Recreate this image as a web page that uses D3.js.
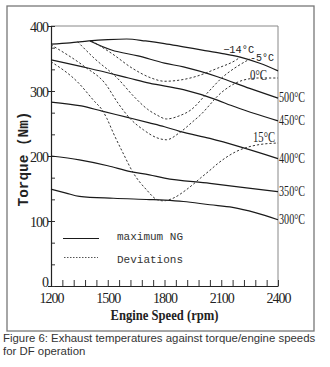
<!DOCTYPE html>
<html>
<head>
<meta charset="utf-8">
<script src="https://d3js.org/d3.v7.min.js"></script>
<style>
  body { margin: 0; background: #fff; }
</style>
</head>
<body>
<svg id="drawing_region"></svg>
<script>
// axis ticks
const rpmTicks = [1200, 1500, 1800, 2100, 2400];
const torqueTicks = [0, 100, 200, 300, 400];

// solid lines: maximum NG (top) and exhaust temperature lines [rpm, torque]
const topCurve = [[1200,372],[1300,374],[1400,377],[1500,379],[1600,380],[1700,377],[1800,373],[1900,368],[2000,363],[2100,358],[2200,352],[2300,343],[2400,331]];
const t500 = [[1406,377],[1520,363],[1660,354],[1800,343],[1900,337],[2080,322],[2250,304],[2400,289]];
const t450 = [[1200,348],[1400,335],[1610,320],[1720,312],[1900,302],[2080,286],[2150,278],[2400,254]];
const t400 = [[1200,283],[1360,277],[1470,269],[1610,259],[1720,251],[1800,245],[1880,238],[2040,227],[2200,214],[2400,196]];
const t350 = [[1200,200],[1350,194],[1500,185],[1620,176],[1720,171],[1800,166],[2040,158],[2200,152],[2400,145]];
const t300 = [[1200,149],[1280,143],[1350,138],[1530,135],[1720,133],[1800,132],[1900,130],[2040,125],[2160,121],[2280,113],[2400,102]];
const solidLines = [topCurve, t500, t450, t400, t350, t300];
const solidNames = ["", "500°C", "450°C", "400°C", "350°C", "300°C"];

// dashed lines: deviations at ambient temperatures
const dm14 = [[1415,377],[1520,358],[1630,335],[1730,320],[1800,315],[1860,316],[1950,321],[2080,335],[2180,348],[2200,352]];
const dm5 = [[1340,376],[1430,350],[1550,320],[1640,291],[1710,272],[1760,263],[1810,257],[1880,262],[1940,271],[2020,295],[2110,322],[2180,337],[2250,349]];
const d0 = [[1200,371],[1380,337],[1485,312],[1555,281],[1620,257],[1690,240],[1760,228],[1810,225],[1880,236],[1950,253],[2000,266],[2040,279],[2080,292],[2150,308],[2220,317],[2300,320],[2400,320]];
const d15 = [[1200,345],[1340,314],[1430,284],[1470,271],[1495,258],[1530,235],[1580,205],[1635,174],[1705,148],[1760,133],[1795,131],[1845,135],[1915,148],[1990,166],[2040,178],[2080,188],[2180,207],[2290,217],[2400,220]];
const dashedLines = [dm14, dm5, d0, d15];
const dashedNames = ["−14°C", "-5°C", "0°C", "15°C"];

const legendLabels = ["maximum NG", "Deviations"];
const caption = ["Figure 6: Exhaust temperatures against torque/engine speeds", "for DF operation"];

class TorqueChart {

  constructor( config ) {
    this.config = {
      parent: config.parent,
      width: config.width || 330,
      height: config.height || 367,
      margin: config.margin || {left: 51, top: 26, right: 52, bottom: 81}
    }
    this.init();
  }

  init() {
    let self = this;
    let m = self.config.margin;

    self.svg = d3.select( self.config.parent )
      .attr('width', self.config.width)
      .attr('height', self.config.height);

    self.inner_width = self.config.width - m.left - m.right;
    self.inner_height = self.config.height - m.top - m.bottom;

    self.xscale = d3.scaleLinear()
      .domain([1200, 2400])
      .range([m.left, m.left + self.inner_width]);

    self.yscale = d3.scaleLinear()
      .domain([0, 400])
      .range([m.top + self.inner_height, m.top]);

    self.line = d3.line()
      .x( d => self.xscale(d[0]) )
      .y( d => self.yscale(d[1]) )
      .curve( d3.curveMonotoneX );
  }

  render() {
    let self = this;
    let x = self.xscale, y = self.yscale;
    let x0 = x(1200), x1 = x(2400), y0 = y(0), y1 = y(400);

    // outer frame
    self.svg.append('rect')
      .attr('x', 7).attr('y', 6)
      .attr('width', 307).attr('height', 325)
      .attr('fill', 'none')
      .attr('stroke', '#777')
      .attr('stroke-width', 1.3);

    // top and right border of the plot
    self.svg.append('path')
      .attr('d', `M${x0},${y1}H${x1}V${y0}`)
      .attr('fill', 'none')
      .attr('stroke', '#888')
      .attr('stroke-width', 1);

    // x minor ticks (inward)
    self.svg.append('g')
      .attr('transform', `translate(0,${y0})`)
      .call( d3.axisBottom(x).tickValues(d3.range(1200, 2401, 60)).tickSize(-6).tickFormat('') )
      .call( g => g.select('.domain').remove() )
      .selectAll('line').attr('stroke', '#333');

    // x axis with labels
    let xaxis = self.svg.append('g')
      .attr('transform', `translate(0,${y0})`)
      .call( d3.axisBottom(x).tickValues(rpmTicks).tickSize(0).tickPadding(7).tickFormat(d3.format('d')) );
    xaxis.select('.domain').attr('stroke', '#222').attr('stroke-width', 1.2);
    xaxis.selectAll('text')
      .attr('font-family', '"Liberation Serif", serif')
      .attr('font-size', 14)
      .attr('letter-spacing', -1)
      .attr('fill', '#222');

    // y minor ticks (inward)
    self.svg.append('g')
      .attr('transform', `translate(${x0},0)`)
      .call( d3.axisLeft(y).tickValues(d3.range(0, 13).map(i => i * 100 / 3)).tickSize(-4).tickFormat('') )
      .call( g => g.select('.domain').remove() )
      .selectAll('line').attr('stroke', '#333');

    // y axis with labels
    let yaxis = self.svg.append('g')
      .attr('transform', `translate(${x0},0)`)
      .call( d3.axisLeft(y).tickValues(torqueTicks).tickSize(3).tickPadding(0) );
    yaxis.select('.domain').attr('stroke', '#222').attr('stroke-width', 1.2);
    yaxis.selectAll('line').attr('stroke', '#222');
    yaxis.selectAll('text')
      .attr('font-family', '"Liberation Serif", serif')
      .attr('font-size', 14)
      .attr('letter-spacing', -1)
      .attr('dy', d => d == 0 ? '0.05em' : '0.38em')
      .attr('fill', '#222');

    // axis titles
    self.svg.append('text')
      .attr('x', (x0 + x1) / 2)
      .attr('y', 320)
      .attr('text-anchor', 'middle')
      .attr('font-family', '"Liberation Serif", serif')
      .attr('font-weight', 'bold')
      .attr('font-size', 14)
      .attr('textLength', 108)
      .attr('lengthAdjust', 'spacingAndGlyphs')
      .attr('fill', '#222')
      .text('Engine Speed (rpm)');

    self.svg.append('text')
      .attr('transform', `translate(28,${(y0 + y1) / 2 + 3}) rotate(-90)`)
      .attr('text-anchor', 'middle')
      .attr('font-family', '"Liberation Mono", monospace')
      .attr('font-weight', 'bold')
      .attr('font-size', 14)
      .attr('textLength', 95)
      .attr('lengthAdjust', 'spacingAndGlyphs')
      .attr('fill', '#222')
      .text('Torque (Nm)');

    // solid lines
    self.svg.append('g')
      .selectAll('path')
      .data( solidLines )
      .join('path')
      .attr('d', self.line)
      .attr('fill', 'none')
      .attr('stroke', '#1a1a1a')
      .attr('stroke-width', 1.2);

    // dashed lines
    self.svg.append('g')
      .selectAll('path')
      .data( dashedLines )
      .join('path')
      .attr('d', self.line)
      .attr('fill', 'none')
      .attr('stroke', '#333')
      .attr('stroke-width', 1)
      .attr('stroke-dasharray', '2.2,2');

    // temperature labels at the right end of the solid lines
    self.svg.append('g')
      .selectAll('text')
      .data( solidLines.map((d, i) => ({pt: d[d.length - 1], name: solidNames[i]})).filter(d => d.name) )
      .join('text')
      .attr('x', d => x(d.pt[0]) + 1)
      .attr('y', d => y(d.pt[1]) + 4)
      .attr('font-family', '"Liberation Serif", serif')
      .attr('font-size', 14)
      .attr('textLength', 26)
      .attr('lengthAdjust', 'spacingAndGlyphs')
      .attr('fill', '#222')
      .text( d => d.name );

    // ambient temperature labels
    let dashPos = [[2110, 358, 'mono'], [2252, 346, 'mono'], [2252, 317, 'serif'], [2268, 221.5, 'serif']];
    self.svg.append('g')
      .selectAll('text')
      .data( dashedNames )
      .join('text')
      .attr('x', (d, i) => x(dashPos[i][0]))
      .attr('y', (d, i) => y(dashPos[i][1]))
      .attr('font-family', (d, i) => dashPos[i][2] == 'mono' ? '"Liberation Mono", monospace' : '"Liberation Serif", serif')
      .attr('font-size', (d, i) => dashPos[i][2] == 'mono' ? 10.5 : 14)
      .attr('textLength', (d, i) => [31, 24, 17, 22][i])
      .attr('lengthAdjust', 'spacingAndGlyphs')
      .attr('fill', '#222')
      .text( d => d );

    // legend
    let legend = self.svg.append('g');
    legend.append('line')
      .attr('x1', 63).attr('x2', 99)
      .attr('y1', 238.5).attr('y2', 238.5)
      .attr('stroke', '#1a1a1a').attr('stroke-width', 1.1);
    legend.append('line')
      .attr('x1', 64).attr('x2', 98)
      .attr('y1', 257.5).attr('y2', 257.5)
      .attr('stroke', '#555').attr('stroke-width', 1)
      .attr('stroke-dasharray', '1.5,1.5');
    legend.selectAll('text')
      .data( legendLabels )
      .join('text')
      .attr('x', 117)
      .attr('y', (d, i) => 240 + i * 23)
      .attr('font-family', '"Liberation Mono", monospace')
      .attr('font-size', 11)
      .attr('textLength', 66)
      .attr('lengthAdjust', 'spacingAndGlyphs')
      .attr('fill', '#333')
      .text( d => d );

    // caption
    self.svg.append('g')
      .selectAll('text')
      .data( caption )
      .join('text')
      .attr('x', 3)
      .attr('y', (d, i) => 342 + i * 13)
      .attr('font-family', '"Liberation Sans", Arial, sans-serif')
      .attr('font-size', 11.4)
      .attr('fill', '#333')
      .text( d => d );
  }
}

const chart = new TorqueChart({ parent: '#drawing_region', width: 330, height: 367 });
chart.render();
</script>
</body>
</html>
